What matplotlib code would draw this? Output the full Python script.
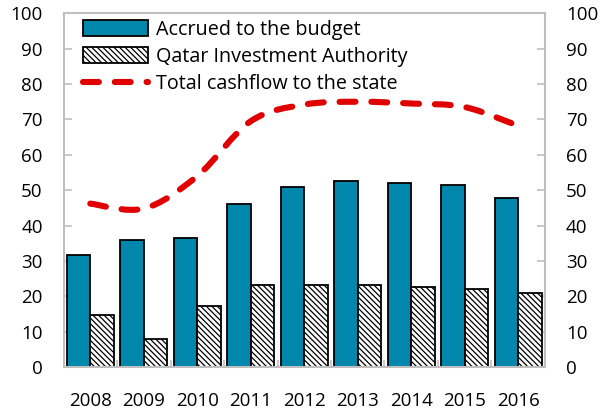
import numpy as np
import matplotlib.pyplot as plt
from matplotlib.path import Path
from matplotlib.patches import PathPatch, Patch
from matplotlib.lines import Line2D

plt.rcParams['font.family'] = ['Open Sans', 'DejaVu Sans']
plt.rcParams['hatch.color'] = '#505050'
plt.rcParams['hatch.linewidth'] = 0.9

years = ['2008', '2009', '2010', '2011', '2012', '2013', '2014', '2015', '2016']
accrued = [31.7, 36.0, 36.5, 46.2, 51.0, 52.6, 52.0, 51.5, 47.8]
qia = [14.7, 8.0, 17.2, 23.1, 23.1, 23.1, 22.5, 22.0, 20.9]
total_cashflow = [46.2, 44.8, 54.0, 69.5, 74.2, 75.0, 74.5, 73.5, 68.2]

blue = '#0087ab'
red = '#e00000'
grey = '#bfbfbf'
hatch = '\\\\\\\\\\\\'

fig = plt.figure(figsize=(6.01, 4.11), dpi=100)
ax = fig.add_axes([0.1057, 0.107, 0.8011, 0.8606])

x = np.arange(len(years))
w = 0.44
ax.bar(x - w / 2, accrued, w, color=blue, edgecolor='black', linewidth=1.3, zorder=2)
ax.bar(x + w / 2, qia, w, color='white', edgecolor='black', linewidth=1.3,
       hatch=hatch, zorder=2)

# smoothed line like Excel: Catmull-Rom segments turned into cubic beziers
pts = np.column_stack([x, total_cashflow]).astype(float)
verts = [pts[0]]
codes = [Path.MOVETO]
for i in range(len(pts) - 1):
    p0 = pts[i - 1] if i > 0 else pts[i]
    p1 = pts[i]
    p2 = pts[i + 1]
    p3 = pts[i + 2] if i + 2 < len(pts) else pts[i + 1]
    c1 = p1 + (p2 - p0) / 6
    c2 = p2 - (p3 - p1) / 6
    verts += [c1, c2, p2]
    codes += [Path.CURVE4] * 3
ax.add_patch(PathPatch(Path(verts, codes), facecolor='none', edgecolor=red,
                       linewidth=4.4, linestyle=(0, (2.6, 2.6)),
                       capstyle='round', zorder=3))

ax.set_xlim(-0.5, len(years) - 0.5)
ax.set_ylim(0, 100)
ax.set_yticks(range(0, 101, 10))
ax.set_xticks(x)
ax.set_xticklabels(years)
ax.set_xticks(np.arange(0.5, len(years) - 1, 1), minor=True)

for s in ax.spines.values():
    s.set_color(grey)
    s.set_linewidth(1.5)

ax.tick_params(axis='y', direction='in', length=6, width=1.2, color=grey,
               labelsize=13.5, pad=15, right=True, labelright=True)
ax.tick_params(axis='x', which='major', length=0, labelsize=13.5, pad=18)
ax.tick_params(axis='x', which='minor', direction='in', length=5, width=1.2, color=grey)

handles = [
    Patch(facecolor=blue, edgecolor='black', linewidth=1.3),
    Patch(facecolor='white', edgecolor='black', linewidth=1.3, hatch=hatch),
    Line2D([], [], color=red, linewidth=4.4, linestyle=(0, (2.6, 2.6)),
           dash_capstyle='round'),
]
labels = ['Accrued to the budget', 'Qatar Investment Authority',
          'Total cashflow to the state']
ax.legend(handles, labels, loc='upper left', bbox_to_anchor=(0.04, 0.982),
          frameon=False, fontsize=14.2, handlelength=3.3, handleheight=0.85,
          handletextpad=0.4, labelspacing=0.36, borderpad=0, borderaxespad=0)

plt.savefig('out.png', dpi=100)
